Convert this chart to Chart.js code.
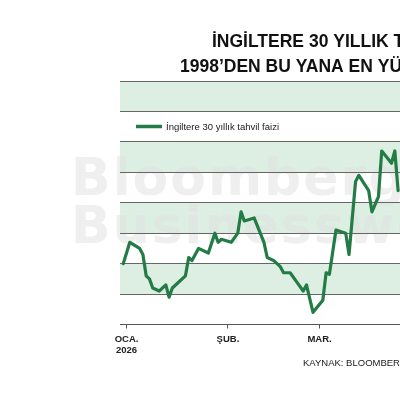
<!DOCTYPE html>
<html>
<head>
<meta charset="utf-8">
<script src="https://cdn.jsdelivr.net/npm/chart.js@4"></script>
<style>
  html, body { margin:0; padding:0; background:#fff; }
  #clip { width:400px; height:400px; overflow:hidden; position:relative; }
  #wrap { width:440px; height:400px; position:absolute; left:0; top:0; }
</style>
</head>
<body>
<div id="clip"><div id="wrap"><canvas id="c"></canvas></div></div>
<script>
// ---- data ----
const titleLines = ["İNGİLTERE 30 YILLIK TAHVİL FAİZİ", "1998’DEN BU YANA EN YÜKSEK SEVİYEDE"];
const sourceText = "KAYNAK: BLOOMBERG";
const seriesLabel = "İngiltere 30 yıllık tahvil faizi";
const watermark = ["Bloomberg", "Businessweek"];
// days since 1 Jan 2026
const days = [-1,1,4,5,6,7,8,10,12,13,14,18,19,20,22,25,27,28,29,32,34,35,36,39,42,43,45,47,48,50,52,54,55,57,60,61,62,64,67,68,70,71,74,75,77,78,81,82,83];
const yields = [5.30,5.37,5.35,5.33,5.26,5.25,5.22,5.21,5.23,5.19,5.22,5.26,5.32,5.31,5.35,5.335,5.40,5.37,5.38,5.37,5.40,5.47,5.44,5.45,5.37,5.32,5.31,5.29,5.27,5.27,5.24,5.21,5.23,5.14,5.18,5.27,5.265,5.41,5.40,5.33,5.57,5.59,5.54,5.47,5.52,5.67,5.63,5.67,5.54];
const tickDays = [0, 31, 59];
const tickLabels = [["OCA.", "2026"], ["ŞUB."], ["MAR."]];

const GREEN = '#237b45';
const BAND = '#dcefe2';
const FONT = '"Liberation Sans", Arial, sans-serif';

const bgPlugin = {
  id: 'bands',
  beforeDraw(chart) {
    const {ctx, chartArea: a, scales: {y}} = chart;
    const t = y.ticks.map(k => k.value);
    ctx.save();
    for (let i = 0; i < t.length - 1; i++) {
      if (i % 2 === 1) {
        const y0 = y.getPixelForValue(t[i]);
        const y1 = y.getPixelForValue(t[i + 1]);
        ctx.fillStyle = BAND;
        ctx.fillRect(a.left, y1, a.right - a.left, y0 - y1);
      }
    }
    // watermark
    ctx.fillStyle = 'rgba(224,224,224,0.5)';
    ctx.textAlign = 'left';
    ctx.textBaseline = 'alphabetic';
    ctx.font = 'bold 52px "DejaVu Sans", sans-serif';
    ctx.letterSpacing = '2px';
    ctx.fillText(watermark[0], 71, 195);
    ctx.fillText(watermark[1], 71, 243);
    ctx.restore();
  },
  afterDraw(chart) {
    const {ctx} = chart;
    ctx.save();
    ctx.fillStyle = '#111';
    ctx.textBaseline = 'alphabetic';
    ctx.textAlign = 'left';
    ctx.font = 'bold 17.5px ' + FONT;
    ctx.fillText(titleLines[0], 212, 47);
    ctx.fillText(titleLines[1], 180, 72);
    // legend
    const ds = chart.data.datasets[0];
    ctx.strokeStyle = ds.borderColor;
    ctx.lineWidth = 3.5;
    ctx.beginPath();
    ctx.moveTo(136, 126.5);
    ctx.lineTo(162, 126.5);
    ctx.stroke();
    ctx.fillStyle = '#1a1a1a';
    ctx.font = '9.5px ' + FONT;
    ctx.textBaseline = 'middle';
    ctx.fillText(ds.label, 166, 127);
    // source
    ctx.textBaseline = 'alphabetic';
    ctx.font = '9.5px ' + FONT;
    ctx.fillText(sourceText, 303, 366);
    ctx.restore();
  }
};

new Chart(document.getElementById('c'), {
  type: 'line',
  data: {
    datasets: [{
      label: seriesLabel,
      data: days.map((d, i) => ({x: d, y: yields[i]})),
      borderColor: GREEN,
      borderWidth: 3.2,
      pointRadius: 0,
      tension: 0,
      borderJoinStyle: 'round',
      borderCapStyle: 'round'
    }]
  },
  options: {
    responsive: true,
    maintainAspectRatio: false,
    animation: false,
    devicePixelRatio: 1,
    layout: { padding: { left: 120, right: 19, top: 81, bottom: 0 } },
    plugins: { legend: { display: false }, title: { display: false }, tooltip: { enabled: false } },
    scales: {
      x: {
        type: 'linear',
        min: -2,
        max: 90,
        afterBuildTicks: s => { s.ticks = tickDays.map(v => ({ value: v })); },
        afterFit: s => { s.height = 75.5; },
        ticks: {
          autoSkip: false,
          maxRotation: 0,
          padding: 5,
          color: '#222',
          font: { family: FONT, size: 9.5, weight: 'bold', lineHeight: 1.2 },
          callback: (v, i) => tickLabels[i]
        },
        grid: { drawOnChartArea: false, drawTicks: true, tickLength: 4, color: '#555' },
        border: { display: true, color: '#555', width: 1 }
      },
      y: {
        min: 5.1,
        max: 5.9,
        ticks: { display: false, stepSize: 0.1 },
        grid: { color: '#666', lineWidth: 1, drawTicks: false },
        border: { display: false }
      }
    }
  },
  plugins: [bgPlugin]
});
</script>
</body>
</html>
